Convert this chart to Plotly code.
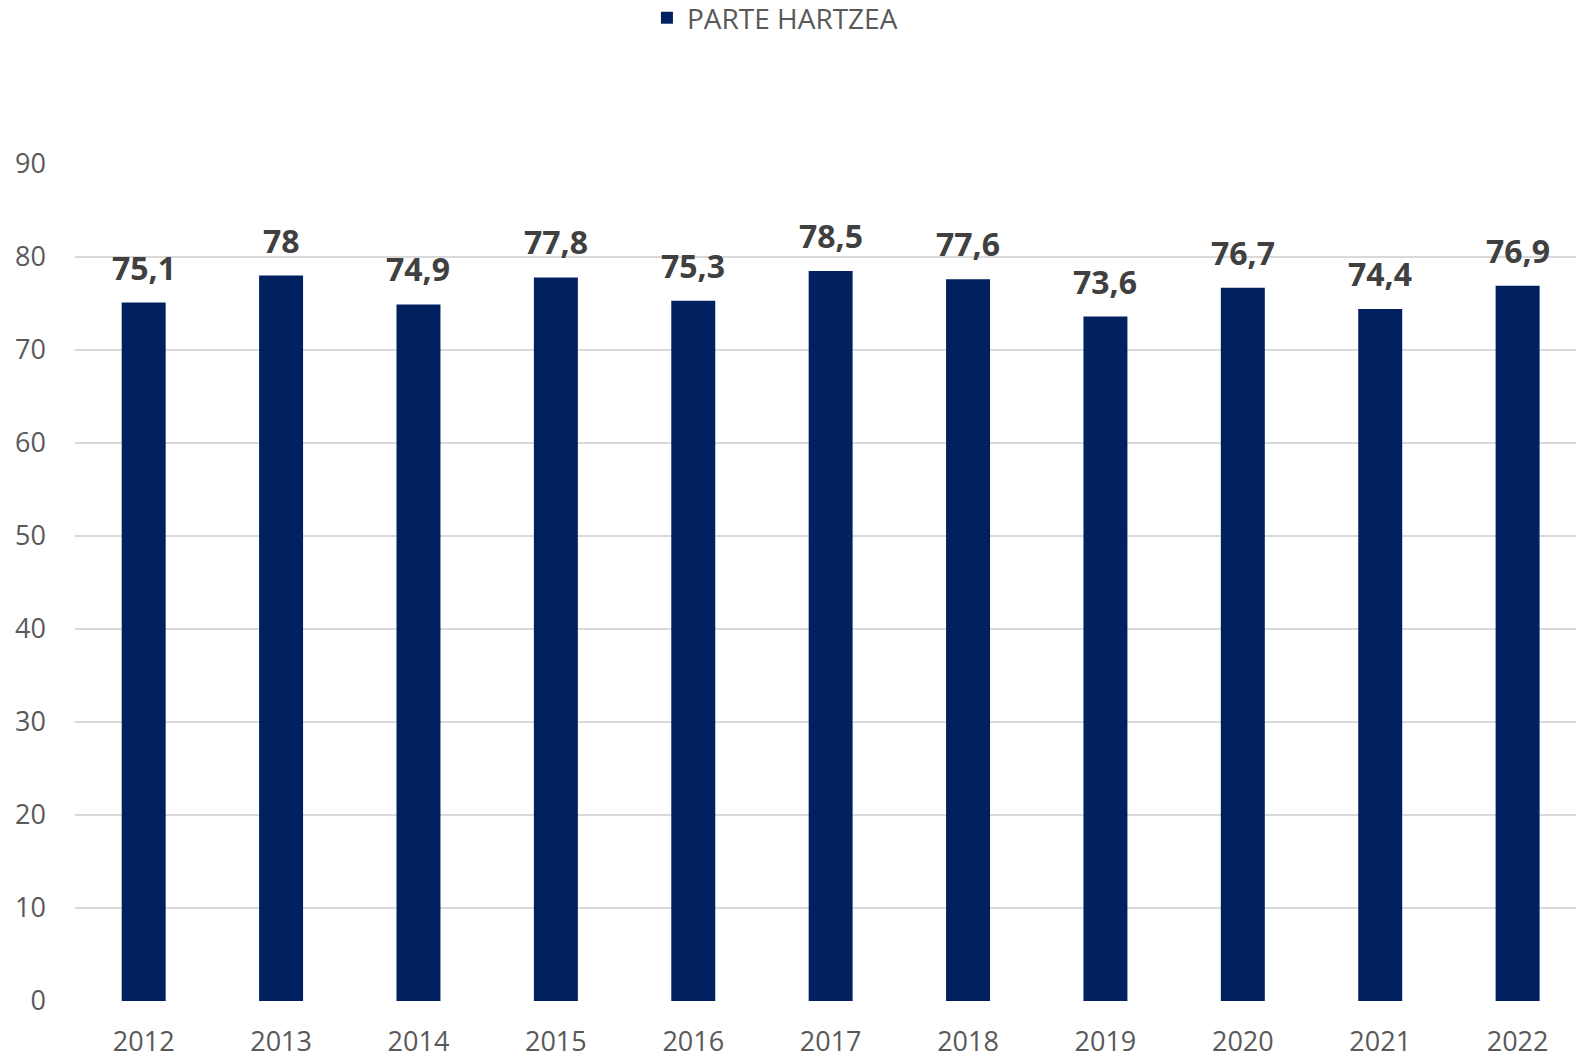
import plotly.graph_objects as go

years = ["2012", "2013", "2014", "2015", "2016", "2017", "2018", "2019", "2020", "2021", "2022"]
values = [75.1, 78, 74.9, 77.8, 75.3, 78.5, 77.6, 73.6, 76.7, 74.4, 76.9]
series_name = "PARTE HARTZEA"
y_ticks = [0, 10, 20, 30, 40, 50, 60, 70, 80, 90]

labels = [f"{v:g}".replace(".", ",") for v in values]

fig = go.Figure()
fig.add_trace(go.Bar(
    x=years, y=values, name=series_name,
    marker=dict(color="#002060", line=dict(width=0)),
    width=0.32,
))

for i, (v, t) in enumerate(zip(values, labels)):
    fig.add_annotation(x=i, y=v, text=f"<b>{t}</b>", showarrow=False,
                       yanchor="bottom", yshift=12,
                       font=dict(family="Open Sans", size=32, color="#404040"))

fig.update_layout(
    width=1576, height=1060,
    margin=dict(l=75, r=0, t=164, b=59, autoexpand=False),
    paper_bgcolor="white", plot_bgcolor="white",
    showlegend=True,
    legend=dict(orientation="h", xref="container", x=0.4105, xanchor="left",
                yref="container", y=0.983, yanchor="middle",
                font=dict(family="Open Sans", size=28, color="#595959")),
    font=dict(family="Open Sans", color="#595959"),
    xaxis=dict(type="category", range=[-0.5, len(years) - 0.575],
               tickfont=dict(size=27, color="#595959"), showgrid=False,
               showline=False, ticklabelstandoff=22, automargin=False),
    yaxis=dict(range=[0, 90], tickvals=y_ticks, tickfont=dict(size=27, color="#595959"),
               showgrid=True, gridcolor="#d9d9d9", gridwidth=1.5,
               zeroline=False, showline=False, ticklabelstandoff=28, automargin=False),
)

fig.write_html("out.html", config={"displayModeBar": False},
               post_script="document.body.style.margin='0';")
